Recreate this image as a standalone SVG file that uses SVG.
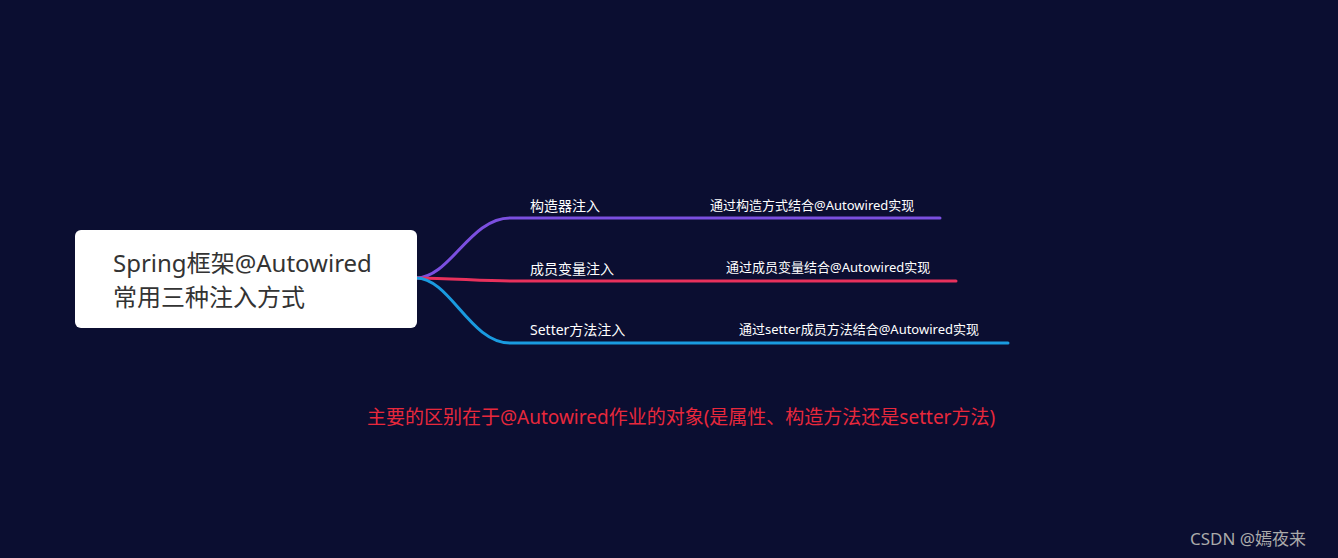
<svg xmlns="http://www.w3.org/2000/svg" width="1338" height="558" viewBox="0 0 1338 558">
<style>
.t{font-family:"Noto Sans","Noto Sans CJK SC",sans-serif;fill:#ffffff}
.b{font-size:14px}
.s{font-size:13px}
.ln{fill:none;stroke-width:3;stroke-linecap:round}
</style>
<rect width="1338" height="558" fill="#0b0e31"/>
<g id="connectors">
<path class="ln" stroke="#7b4fe0" d="M416 278 C450 278 470 218 510 218 L940 218"/>
<path class="ln" stroke="#e8315c" d="M416 278 C450 278 480 281 510 281 L956 281"/>
<path class="ln" stroke="#1a9be0" d="M416 278 C450 278 470 343 510 343 L1008 343"/>
</g>
<g id="root">
<rect x="75" y="230" width="342" height="98" rx="6" fill="#ffffff"/>
<text class="t" x="113" y="272" font-size="24" style="fill:#333333">Spring框架@Autowired</text>
<text class="t" x="113" y="306" font-size="24" style="fill:#333333">常用三种注入方式</text>
</g>
<g id="n1"><text class="t b" x="530" y="211">构造器注入</text></g>
<g id="n2"><text class="t b" x="530" y="274">成员变量注入</text></g>
<g id="n3"><text class="t b" x="530" y="335">Setter方法注入</text></g>
<g id="d1"><text class="t s" x="710" y="210">通过构造方式结合@Autowired实现</text></g>
<g id="d2"><text class="t s" x="726" y="272">通过成员变量结合@Autowired实现</text></g>
<g id="d3"><text class="t s" x="739" y="334">通过setter成员方法结合@Autowired实现</text></g>
<g id="note"><text class="t" x="367" y="424" font-size="19" style="fill:#e8283c">主要的区别在于@Autowired作业的对象(是属性、构造方法还是setter方法)</text></g>
<text class="t" x="1190" y="545" font-size="17" style="fill:#aaaaaa">CSDN @嫣夜来</text>
</svg>
